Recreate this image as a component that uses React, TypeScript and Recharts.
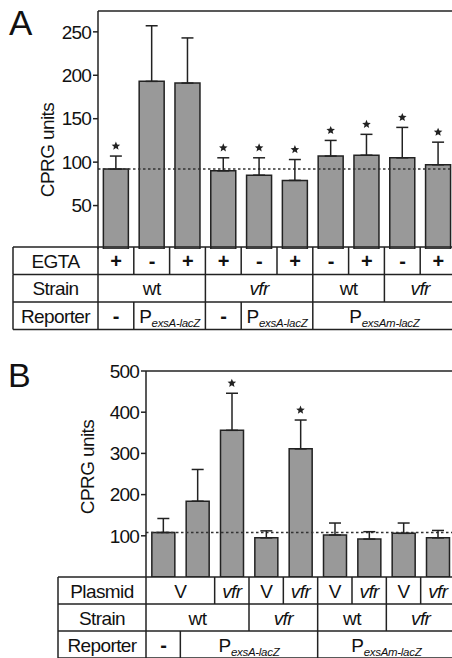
import React from 'react'
import { ComposedChart, Bar, ErrorBar, Scatter, XAxis, YAxis, ReferenceLine } from 'recharts'

// ---- panel A ----
const groupsA = ['a1', 'a2', 'a3', 'a4', 'a5', 'a6', 'a7', 'a8', 'a9', 'a10']
const meansA = [92, 193, 191, 90, 85, 79, 107, 108, 105, 97]
const errsA = [15, 64, 52, 15, 20, 24, 18, 24, 35, 26]
const starsA = [true, false, false, true, true, true, true, true, true, true]
const ticksA = [50, 100, 150, 200, 250]
const maxA = 274
const baselineA = 92
const egtaA = ['+', '-', '+', '+', '-', '+', '-', '+', '-', '+']
const strainA: [string, number][] = [['wt', 3], ['vfr', 3], ['wt', 2], ['vfr', 2]]
const reporterA: [string, number][] = [['-', 1], ['exsA-lacZ', 2], ['-', 1], ['exsA-lacZ', 2], ['exsAm-lacZ', 4]]

// ---- panel B ----
const groupsB = ['b1', 'b2', 'b3', 'b4', 'b5', 'b6', 'b7', 'b8', 'b9']
const meansB = [108, 184, 356, 95, 311, 102, 92, 106, 95]
const errsB = [34, 77, 90, 17, 70, 29, 18, 25, 18]
const starsB = [false, false, true, false, true, false, false, false, false]
const ticksB = [100, 200, 300, 400, 500]
const maxB = 500
const baselineB = 108
const plasmidB: [string, number][] = [['V', 2], ['vfr', 1], ['V', 1], ['vfr', 1], ['V', 1], ['vfr', 1], ['V', 1], ['vfr', 1]]
const strainB: [string, number][] = [['wt', 3], ['vfr', 2], ['wt', 2], ['vfr', 2]]
const reporterB: [string, number][] = [['-', 1], ['exsA-lacZ', 4], ['exsAm-lacZ', 4]]

const FONT = "'Liberation Sans', Arial, sans-serif"
const INK = '#222'
const CHART_W = 460

const build = (groups: string[], means: number[], errs: number[], stars: boolean[]) =>
  groups.map((g, i) => ({
    name: g,
    value: means[i],
    err: [0, errs[i]],
    star: stars[i] ? means[i] + errs[i] : null,
  }))

const Star = (props: any) => {
  const { cx, cy, payload } = props
  if (payload.star == null || !isFinite(cy)) return <g />
  const r = 4.5
  const pts: string[] = []
  for (let k = 0; k < 10; k++) {
    const a = -Math.PI / 2 + (k * Math.PI) / 5
    const rr = k % 2 === 0 ? r : r * 0.45
    pts.push(`${cx + rr * Math.cos(a)},${cy - 10 + rr * Math.sin(a)}`)
  }
  return <polygon points={pts.join(' ')} fill={INK} />
}

type PanelProps = {
  data: any[]
  ticks: number[]
  max: number
  baseline: number
  axisW: number
  top: number
  height: number
  right: number
  gap: string
  labelDx: number
  labelDy: number
}

function Panel({ data, ticks, max, baseline, axisW, top, height, right, gap, labelDx, labelDy }: PanelProps) {
  return (
    <ComposedChart width={CHART_W} height={height} data={data}
      margin={{ top, right, bottom: 0, left: 0 }} barCategoryGap={gap}>
      <XAxis dataKey="name" hide />
      <YAxis width={axisW} domain={[0, max]} ticks={ticks} tickSize={5} tickMargin={2}
        axisLine={{ stroke: INK, strokeWidth: 1.5 }} tickLine={{ stroke: INK, strokeWidth: 1.5 }}
        tick={{ fill: '#111', fontSize: 19, fontFamily: FONT, letterSpacing: -0.8 }}
        label={(p: any) => {
          const vb = p.viewBox
          const x = vb.x + vb.width - labelDx
          const y = vb.y + vb.height / 2 + labelDy
          return (
            <text x={x} y={y} transform={`rotate(-90 ${x} ${y})`} textAnchor="middle"
              dominantBaseline="central" fontSize={19} letterSpacing={-0.6} fontFamily={FONT} fill="#111">CPRG units</text>
          )
        }} />
      <ReferenceLine y={max} stroke={INK} strokeWidth={1.5} />
      <ReferenceLine y={baseline} stroke="#333" strokeWidth={1.5} strokeDasharray="2.5 2.5" />
      <Bar dataKey="value" fill="#999" stroke={INK} strokeWidth={1.5} isAnimationActive={false}>
        <ErrorBar dataKey="err" width={6} stroke={INK} strokeWidth={1.5} isAnimationActive={false} />
      </Bar>
      <Scatter dataKey="star" shape={Star} isAnimationActive={false} />
    </ComposedChart>
  )
}

type TableProps = {
  left: number
  plotLeft: number
  band: number
  n: number
  top: number
  rowH: number
  rows: { label: string; cells: [string, number][] }[]
}

function CellText({ text, x, y }: { text: string; x: number; y: number }) {
  if (text.startsWith('exs')) {
    return (
      <text x={x} y={y} textAnchor="middle" fontFamily={FONT} fontSize={19} fill="#111" letterSpacing={-0.3}>
        P<tspan fontSize={11.5} fontStyle="italic" dy={4}>{text}</tspan>
      </text>
    )
  }
  const sign = text === '+' || text === '-'
  return (
    <text x={x} y={y} textAnchor="middle" fontFamily={FONT} fontSize={sign ? 20 : 19}
      letterSpacing={-0.6} fontWeight={sign ? 'bold' : 'normal'}
      fontStyle={text === 'vfr' ? 'italic' : 'normal'} fill="#111">
      {text}
    </text>
  )
}

function Table({ left, plotLeft, band, n, top, rowH, rows }: TableProps) {
  const right = plotLeft + band * n
  const lines: React.ReactNode[] = []
  const texts: React.ReactNode[] = []
  rows.forEach((row, r) => {
    const y0 = top + r * rowH
    const ty = y0 + rowH / 2 + 7
    lines.push(<line key={`h${r}`} x1={left} x2={right} y1={y0} y2={y0} />)
    lines.push(<line key={`l${r}`} x1={left} x2={left} y1={y0} y2={y0 + rowH} />)
    lines.push(<line key={`p${r}`} x1={plotLeft} x2={plotLeft} y1={y0} y2={y0 + rowH} />)
    texts.push(<CellText key={`t${r}`} text={row.label} x={(left + plotLeft) / 2} y={ty} />)
    let k = 0
    row.cells.forEach(([text, span], c) => {
      const x0 = plotLeft + k * band
      const x1 = plotLeft + (k + span) * band
      lines.push(<line key={`v${r}-${c}`} x1={x1} x2={x1} y1={y0} y2={y0 + rowH} />)
      texts.push(<CellText key={`c${r}-${c}`} text={text} x={(x0 + x1) / 2} y={ty} />)
      k += span
    })
  })
  const yb = top + rows.length * rowH
  lines.push(<line key="bottom" x1={left} x2={right} y1={yb} y2={yb} />)
  return (
    <g>
      <g stroke={INK} strokeWidth={1.5}>{lines}</g>
      <g>{texts}</g>
    </g>
  )
}

export default function App() {
  const dataA = build(groupsA, meansA, errsA, starsA)
  const dataB = build(groupsB, meansB, errsB, starsB)
  const axisA = 98, rightA = 4
  const axisB = 146, rightB = 5
  const bandA = (CHART_W - axisA - rightA) / groupsA.length
  const bandB = (CHART_W - axisB - rightB) / groupsB.length
  const topB = 360
  return (
    <div style={{ position: 'absolute', left: 0, top: 0, width: 452, height: 658, overflow: 'hidden', background: '#fff' }}>
      <div style={{ position: 'absolute', left: 0, top: 0 }}>
        <Panel data={dataA} ticks={ticksA} max={maxA} baseline={baselineA} axisW={axisA} top={11}
          height={249} right={rightA} gap="15%" labelDx={51} labelDy={20} />
      </div>
      <div style={{ position: 'absolute', left: 0, top: topB }}>
        <Panel data={dataB} ticks={ticksB} max={maxB} baseline={baselineB} axisW={axisB} top={11}
          height={217} right={rightB} gap="17%" labelDx={59} labelDy={-7} />
      </div>
      <svg width={452} height={658} style={{ position: 'absolute', left: 0, top: 0, pointerEvents: 'none' }}>
        <text x={9} y={35} fontFamily={FONT} fontSize={35} fill="#111">A</text>
        <text x={8} y={387} fontFamily={FONT} fontSize={34} fill="#111">B</text>
        <Table left={13} plotLeft={axisA} band={bandA} n={groupsA.length} top={247} rowH={27.5}
          rows={[
            { label: 'EGTA', cells: egtaA.map(e => [e, 1] as [string, number]) },
            { label: 'Strain', cells: strainA },
            { label: 'Reporter', cells: reporterA },
          ]} />
        <Table left={58} plotLeft={axisB} band={bandB} n={groupsB.length} top={577} rowH={27}
          rows={[
            { label: 'Plasmid', cells: plasmidB },
            { label: 'Strain', cells: strainB },
            { label: 'Reporter', cells: reporterB },
          ]} />
      </svg>
    </div>
  )
}
